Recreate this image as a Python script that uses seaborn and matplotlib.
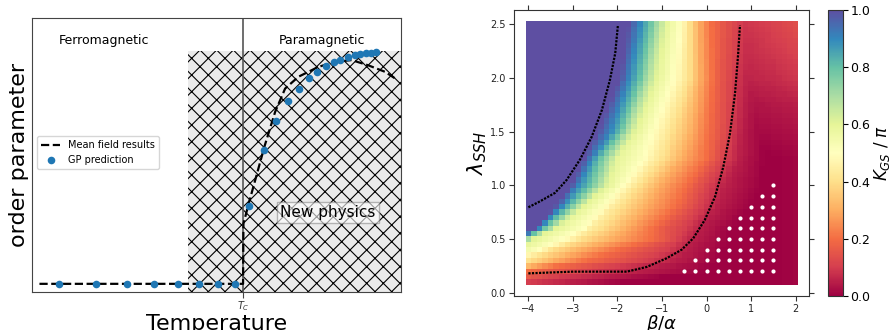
import numpy as np
import matplotlib
matplotlib.use("Agg")
import matplotlib.pyplot as plt
import seaborn as sns

# ---------------- left panel: order parameter vs temperature (axis fractions)
t_c = 0.572
new_phys_start = 0.423
new_phys_top = 0.88

mf_t = [0.02, 0.572, 0.573, 0.59, 0.631, 0.659, 0.686, 0.722, 0.776, 0.821,
        0.866, 0.911, 0.957, 0.984]
mf_m = [0.03, 0.03, 0.25, 0.336, 0.536, 0.658, 0.743, 0.786, 0.822, 0.84,
        0.847, 0.828, 0.804, 0.78]

gp_t = [0.074, 0.173, 0.257, 0.33, 0.395, 0.452, 0.503, 0.55, 0.589, 0.629,
        0.662, 0.694, 0.724, 0.75, 0.773, 0.797, 0.819, 0.836, 0.857, 0.875,
        0.89, 0.904, 0.918, 0.932]
gp_m = [0.03, 0.03, 0.03, 0.03, 0.03, 0.03, 0.03, 0.03, 0.314, 0.52,
        0.625, 0.696, 0.743, 0.78, 0.804, 0.826, 0.839, 0.849, 0.858, 0.865,
        0.869, 0.871, 0.874, 0.876]

# ---------------- right panel: K_GS / pi map
beta_cells = np.linspace(-4, 2, 49)
lam_cells = np.linspace(0.1, 2.5, 49)

# value levels, and for each row of lambda the beta where the map crosses them
levels = [1.0, 0.9, 0.8, 0.7, 0.6, 0.5, 0.45, 0.4, 0.3, 0.2, 0.15, 0.1, 0.05, 0.0]
row_lam = [0.1, 0.2, 0.3, 0.4, 0.5, 0.6, 0.8, 1.0, 1.25, 1.5, 2.0, 2.5]
cross_010 = [-6.0, -5.9, -5.8, -5.7, -5.6, -5.5, -5.4, -5.3, -5.0, -4.7, -4.4, -4.0, -3.0, -1.8]
cross_020 = [-5.6, -5.5, -5.4, -5.3, -5.2, -5.0, -4.9, -4.7, -4.4, -4.0, -3.4, -2.6, -1.5, 0.0]
cross_030 = [-5.2, -5.1, -5.0, -4.9, -4.75, -4.5, -4.25, -3.95, -3.4, -2.7, -2.0, -1.3, -0.7, 0.3]
cross_040 = [-4.8, -4.7, -4.6, -4.45, -4.25, -3.75, -3.6, -3.45, -2.8, -2.0, -1.45, -0.85, -0.45, 0.4]
cross_050 = [-4.3, -4.2, -4.1, -4.0, -3.87, -3.2, -3.0, -2.8, -2.1, -1.25, -0.9, -0.6, -0.3, 0.5]
cross_060 = [-3.85, -3.75, -3.65, -3.5, -3.38, -2.75, -2.65, -2.35, -1.8, -1.2, -0.9, -0.45, -0.15, 0.6]
cross_080 = [-3.4, -3.25, -3.08, -2.93, -2.76, -2.3, -2.15, -1.9, -1.35, -0.7, -0.4, -0.1, 0.25, 1.0]
cross_100 = [-3.05, -2.88, -2.62, -2.42, -2.22, -1.85, -1.7, -1.5, -1.05, -0.45, -0.2, 0.1, 0.45, 1.3]
cross_125 = [-2.75, -2.56, -2.4, -2.2, -2.02, -1.4, -1.2, -0.95, -0.55, 0.0, 0.2, 0.45, 0.75, 1.3]
cross_150 = [-2.45, -2.15, -1.94, -1.79, -1.6, -1.2, -0.97, -0.75, -0.33, 0.05, 0.3, 0.55, 0.8, 1.3]
cross_200 = [-1.95, -1.73, -1.5, -1.34, -1.12, -0.72, -0.55, -0.38, -0.15, 0.15, 0.35, 0.62, 0.95, 1.5]
cross_250 = [-1.75, -1.5, -1.28, -1.1, -0.9, -0.58, -0.48, -0.38, -0.18, 0.12, 0.4, 0.75, 1.2, 1.8]

# slightly lighter red in the top right corner
floor_beta = [0.5, 1.0, 1.5, 2.1]
floor_lam = [1.25, 1.75, 2.0, 2.5]
floor_125 = [0.0, 0.0, 0.0, 0.01]
floor_175 = [0.02, 0.03, 0.04, 0.05]
floor_200 = [0.05, 0.06, 0.07, 0.09]
floor_250 = [0.08, 0.09, 0.11, 0.14]

# dotted boundaries
c1_beta = [-4.0, -3.74, -3.4, -3.14, -2.84, -2.58, -2.35, -2.17, -2.05, -1.99]
c1_lam = [0.795, 0.85, 0.93, 1.05, 1.24, 1.45, 1.70, 1.98, 2.23, 2.49]
c2_beta = [-4.0, -2.99, -1.79, -1.34, -0.9, -0.56, -0.3, -0.04, 0.19, 0.375,
           0.525, 0.64, 0.71, 0.75]
c2_lam = [0.18, 0.196, 0.196, 0.24, 0.32, 0.40, 0.506, 0.677, 0.894, 1.17,
          1.48, 1.86, 2.23, 2.49]

# white markers: grid columns, and first column used on each row
dot_beta_cols = [-0.5, -0.25, 0.0, 0.25, 0.5, 0.75, 1.0, 1.25, 1.5]
dot_lam_rows = [0.2, 0.3, 0.4, 0.5, 0.6, 0.7, 0.8, 0.9, 1.0]
dot_row_start = [-0.5, -0.25, 0.0, 0.25, 0.5, 0.75, 1.0, 1.25, 1.5]

# ---------------- build the map
cross = np.array([cross_010, cross_020, cross_030, cross_040, cross_050, cross_060,
                  cross_080, cross_100, cross_125, cross_150, cross_200, cross_250])
floor_grid = np.array([floor_125, floor_175, floor_200, floor_250])
K = np.zeros((len(lam_cells), len(beta_cells)))
for i, lam in enumerate(lam_cells):
    xk = [np.interp(lam, row_lam, cross[:, k]) for k in range(len(levels))]
    main = np.interp(beta_cells, xk, levels)
    fl_cols = [np.interp(lam, floor_lam, floor_grid[:, j]) for j in range(len(floor_beta))]
    fl = np.interp(beta_cells, floor_beta, fl_cols)
    K[i] = np.maximum(main, fl)

dot_b, dot_l = [], []
for lam, start in zip(dot_lam_rows, dot_row_start):
    for b in dot_beta_cols:
        if b >= start:
            dot_b.append(b)
            dot_l.append(lam)

# ---------------- figure
fig = plt.figure(figsize=(8.91, 3.3), dpi=100)
plt.rcParams['hatch.linewidth'] = 0.8

ax1 = fig.add_axes([0.036, 0.115, 0.414, 0.83])
ax1.fill_between([new_phys_start, 1.0], 0, new_phys_top, facecolor='#ebebeb',
                 edgecolor='black', hatch='xx', linewidth=0, zorder=0)
ax1.axvline(t_c, color='#555555', lw=1.2, zorder=1)
sns.lineplot(x=mf_t, y=mf_m, sort=False, estimator=None, color='black',
             linestyle='--', lw=1.6, label='Mean field results', ax=ax1, zorder=3)
sns.scatterplot(x=gp_t, y=gp_m, color='#1f77b4', s=30, linewidth=0,
                label='GP prediction', ax=ax1, zorder=4)
ax1.set_xlim(0, 1)
ax1.set_ylim(0, 1)
ax1.set_xticks([t_c])
ax1.set_xticklabels([r'$T_C$'], fontsize=7)
ax1.set_yticks([])
ax1.tick_params(axis='x', length=4, color='#444444', labelcolor='#333333', pad=1)
for s in ax1.spines.values():
    s.set_color('#444444')
ax1.text(0.195, 0.92, 'Ferromagnetic', fontsize=9, ha='center', va='center')
ax1.text(0.786, 0.92, 'Paramagnetic', fontsize=9, ha='center', va='center')
ax1.text(0.802, 0.292, 'New physics', fontsize=11, ha='center', va='center', zorder=5,
         bbox=dict(boxstyle='square,pad=0.2', facecolor='white', alpha=0.6,
                   edgecolor='#888888'))
ax1.set_xlabel('Temperature', fontsize=16, labelpad=1)
ax1.set_ylabel('order parameter', fontsize=16, labelpad=2)
ax1.legend(loc='center left', fontsize=7, bbox_to_anchor=(0.0, 0.51))

ax2 = fig.add_axes([0.577, 0.103, 0.331, 0.867])
mesh = ax2.pcolormesh(beta_cells, lam_cells, K, cmap='Spectral', vmin=0, vmax=1,
                      shading='nearest', edgecolors='none', antialiased=False)
sns.lineplot(x=c1_beta, y=c1_lam, sort=False, estimator=None, color='black',
             linestyle=(0, (1, 0.6)), lw=1.6, ax=ax2)
sns.lineplot(x=c2_beta, y=c2_lam, sort=False, estimator=None, color='black',
             linestyle=(0, (1, 0.6)), lw=1.6, ax=ax2)
sns.scatterplot(x=dot_b, y=dot_l, color='white', s=9, linewidth=0, ax=ax2, zorder=5)
ax2.set_xlim(-4.32, 2.30)
ax2.set_ylim(-0.031, 2.633)
ax2.set_xticks([-4, -3, -2, -1, 0, 1, 2])
ax2.set_yticks([0.0, 0.5, 1.0, 1.5, 2.0, 2.5])
ax2.tick_params(top=True, right=True, direction='out', labelsize=7, length=3.5,
                color='#333333', labelcolor='#222222', pad=2.5)
for s in ax2.spines.values():
    s.set_color('#333333')
ax2.set_xlabel(r'$\beta/\alpha$', fontsize=13, labelpad=-1)
ax2.set_ylabel(r'$\lambda_{SSH}$', fontsize=15, labelpad=1)

cax = fig.add_axes([0.929, 0.103, 0.0168, 0.867])
cb = fig.colorbar(mesh, cax=cax)
cb.set_ticks([0.0, 0.2, 0.4, 0.6, 0.8, 1.0])
cax.tick_params(labelsize=9, length=3.5, pad=2)
cb.outline.set_edgecolor('#333333')
cax.set_ylabel(r'$K_{GS}$ / $\pi$', fontsize=12, labelpad=1)

fig.savefig('out.png', dpi=100)
